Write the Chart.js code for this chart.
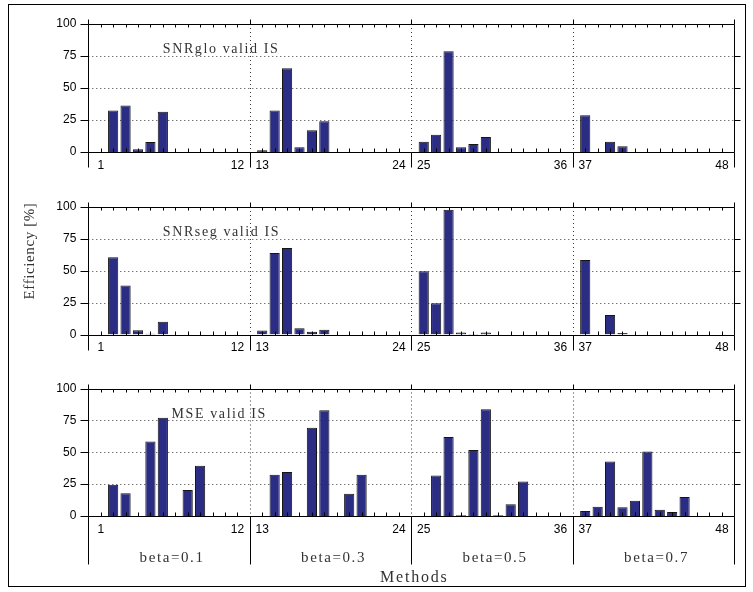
<!DOCTYPE html>
<html><head><meta charset="utf-8">
<script src="https://cdn.jsdelivr.net/npm/chart.js@4.4.1/dist/chart.umd.min.js"></script>
<style>
html,body{margin:0;padding:0;background:#fff;}
#wrap{position:relative;width:753px;height:592px;overflow:hidden;background:#fff;}
canvas{position:absolute;left:0;top:0;}
#frame{position:absolute;left:8px;top:4px;width:738px;height:583px;border:1px solid #000;box-sizing:border-box;}
</style></head><body>
<div id="wrap"><div id="frame"></div>
<canvas id="c1" width="753" height="592"></canvas>
<canvas id="c2" width="753" height="592"></canvas>
<canvas id="c3" width="753" height="592"></canvas>
</div>
<script>
// ---- data ----
const methods = Array.from({length:48}, (_, i) => i + 1);
const tickMethods = [1, 12, 13, 24, 25, 36, 37, 48];
const yTicks = [0, 25, 50, 75, 100];
const groupLabels = ['beta=0.1', 'beta=0.3', 'beta=0.5', 'beta=0.7'];
const panelTitles = ['SNRglo valid IS', 'SNRseg valid IS', 'MSE valid IS'];
const snrGlo = [0,32.5,36.4,2.1,7.9,31.4,0,0,0,0,0,0,
                1.3,32.5,65.4,3.7,17.0,24.1,0,0,0,0,0,0,
                8.1,13.4,78.8,3.7,6.3,11.8,0,0,0,0,0,0,
                28.8,0,8.1,4.5,0,0,0,0,0,0,0,0];
const snrSeg = [0,60.5,38.4,3.4,0.5,10.0,0,0,0,0,0,0,
                3.2,63.9,67.9,5.0,2.1,3.7,0,0,0,0,0,0,
                49.7,24.5,97.9,1.6,0.3,1.6,0,0,0,0,0,0,
                58.4,0,15.3,1.1,0,0,0,0,0,0,0,0];
const mse    = [0,24.5,17.9,0,58.4,77.1,0,20.3,39.5,0,0,0,
                0,32.4,34.5,0,69.2,82.9,0,17.4,32.4,0,0,0,
                0,31.7,62.0,0.5,51.8,83.8,0.5,9.2,27.0,0,0,0,
                3.9,7.3,42.7,6.8,12.0,50.5,5.0,3.1,14.9,0,0,0];
const xAxisTitle = 'Methods';
const yAxisTitle = 'Efficiency [%]';

// ---- layout / style ----
const GROUP = 12;
const methodPos = m => m + Math.floor((m - 1) / GROUP);   // one empty slot between groups
const X_MIN = 0, X_MAX = methodPos(48) + 1;
const PLOT_L = 88.3, PLOT_R = 734.3, XH = 20;
const SANS = '"Liberation Sans", Arial, sans-serif';
const SERIF = '"Liberation Serif", "Times New Roman", serif';
const BAR_FILL = '#2B2D84', BAR_EDGE = '#151515';

const panelDeco = {
  id: 'panelDeco',
  beforeDatasetsDraw(chart, args, o) {
    const {ctx, chartArea: a, scales: {x, y}} = chart;
    ctx.save();
    ctx.strokeStyle = '#3a3a3a'; ctx.lineWidth = 1; ctx.setLineDash([1, 3]);
    ctx.beginPath();
    [25, 50, 75].forEach(v => {
      const py = Math.round(y.getPixelForValue(v)) + 0.5;
      ctx.moveTo(a.left, py); ctx.lineTo(a.right, py);
    });
    for (let g = 1; g < groupLabels.length; g++) {
      const px = Math.round(x.getPixelForValue(methodPos(g * GROUP) + 1)) + 0.5;
      ctx.moveTo(px, a.top); ctx.lineTo(px, a.bottom);
    }
    ctx.stroke();
    ctx.restore();
  },
  afterDatasetsDraw(chart, args, o) {
    const {ctx, chartArea: a, scales: {x, y}} = chart;
    const L = Math.round(a.left) + 0.5, R = Math.round(a.right) + 0.5;
    const T = Math.round(a.top) + 0.5, B = Math.round(a.bottom) + 0.5;
    ctx.save();
    ctx.strokeStyle = '#000'; ctx.lineWidth = 1; ctx.setLineDash([]);
    ctx.beginPath();
    // box
    ctx.moveTo(L, T); ctx.lineTo(R, T); ctx.lineTo(R, B); ctx.lineTo(L, B); ctx.closePath();
    // y ticks
    yTicks.forEach(v => {
      const py = Math.round(y.getPixelForValue(v)) + 0.5;
      ctx.moveTo(L - 8, py); ctx.lineTo(L, py);
      if (v > 0 && v < 100) { ctx.moveTo(R, py); ctx.lineTo(R + 6, py); }
    });
    // minor x ticks at every method
    methods.forEach(m => {
      const px = Math.round(x.getPixelForValue(methodPos(m))) + 0.5;
      ctx.moveTo(px, B); ctx.lineTo(px, B - 4);
      ctx.moveTo(px, T); ctx.lineTo(px, T + 3);
    });
    // group boundaries (solid outside the axes)
    const bounds = [X_MIN];
    for (let g = 1; g < groupLabels.length; g++) bounds.push(methodPos(g * GROUP) + 1);
    bounds.push(X_MAX);
    bounds.forEach(p => {
      const px = Math.round(x.getPixelForValue(p)) + 0.5;
      ctx.moveTo(px, T - 5); ctx.lineTo(px, T);
      ctx.moveTo(px, B); ctx.lineTo(px, B + o.sepLen);
    });
    ctx.stroke();

    // panel title
    ctx.fillStyle = '#333';
    ctx.font = '14px ' + SERIF;
    ctx.letterSpacing = '1.6px';
    ctx.textAlign = 'left'; ctx.textBaseline = 'middle';
    ctx.fillText(o.title, x.getPixelForValue(o.titleX), y.getPixelForValue(80));

    if (o.yTitle) {
      ctx.save();
      ctx.font = '15px ' + SERIF;
      ctx.letterSpacing = '0.6px';
      ctx.translate(30, 251);
      ctx.rotate(-Math.PI / 2);
      ctx.textAlign = 'center'; ctx.textBaseline = 'middle';
      ctx.fillText(o.yTitle, 0, 0);
      ctx.restore();
    }
    if (o.groups) {
      ctx.font = '15px ' + SERIF;
      ctx.letterSpacing = '1.6px';
      ctx.textAlign = 'center'; ctx.textBaseline = 'middle';
      for (let g = 0; g < groupLabels.length; g++) {
        const c = (x.getPixelForValue(bounds[g]) + x.getPixelForValue(bounds[g + 1])) / 2 + 3;
        ctx.fillText(groupLabels[g], c, B + 42);
      }
      ctx.font = '16px ' + SERIF;
      ctx.letterSpacing = '1.8px';
      ctx.fillText(xAxisTitle, (a.left + a.right) / 2 + 3, B + 61);
    }
    ctx.restore();
  }
};

function makePanel(id, values, o) {
  return new Chart(document.getElementById(id), {
    type: 'bar',
    data: {datasets: [{
      data: values.map((v, i) => ({x: methodPos(methods[i]), y: v})),
      backgroundColor: BAR_FILL, borderColor: BAR_EDGE, borderWidth: 1,
      barPercentage: 0.82, categoryPercentage: 1
    }]},
    plugins: [panelDeco],
    options: {
      responsive: false, animation: false, devicePixelRatio: 1,
      layout: {padding: {left: 0, right: 753 - PLOT_R, top: o.top, bottom: 592 - o.bottom - XH}},
      plugins: {legend: {display: false}, tooltip: {enabled: false}, panelDeco: o},
      scales: {
        x: {
          type: 'linear', min: X_MIN, max: X_MAX, offset: false,
          grid: {display: false, drawTicks: false, offset: false}, border: {display: false},
          afterBuildTicks: s => { s.ticks = tickMethods.map(m => ({value: methodPos(m)})); },
          afterFit: s => { s.height = XH; },
          ticks: {autoSkip: false, maxRotation: 0, padding: 6, color: '#000',
                  font: {family: SANS, size: 12},
                  callback: v => { const m = tickMethods.find(t => methodPos(t) === v); return m === undefined ? '' : String(m); }}
        },
        y: {
          min: 0, max: 100,
          grid: {display: false, drawTicks: false}, border: {display: false},
          afterBuildTicks: s => { s.ticks = yTicks.map(v => ({value: v})); },
          afterFit: s => { s.width = PLOT_L; },
          ticks: {padding: 12, color: '#000', font: {family: SANS, size: 12}}
        }
      }
    }
  });
}

makePanel('c1', snrGlo, {top: 24, bottom: 152, title: panelTitles[0], titleX: 6, sepLen: 15});
makePanel('c2', snrSeg, {top: 207, bottom: 334.5, title: panelTitles[1], titleX: 6, sepLen: 15, yTitle: yAxisTitle});
makePanel('c3', mse, {top: 388.5, bottom: 516, title: panelTitles[2], titleX: 6.7, sepLen: 48, groups: true});
</script>
</body></html>
